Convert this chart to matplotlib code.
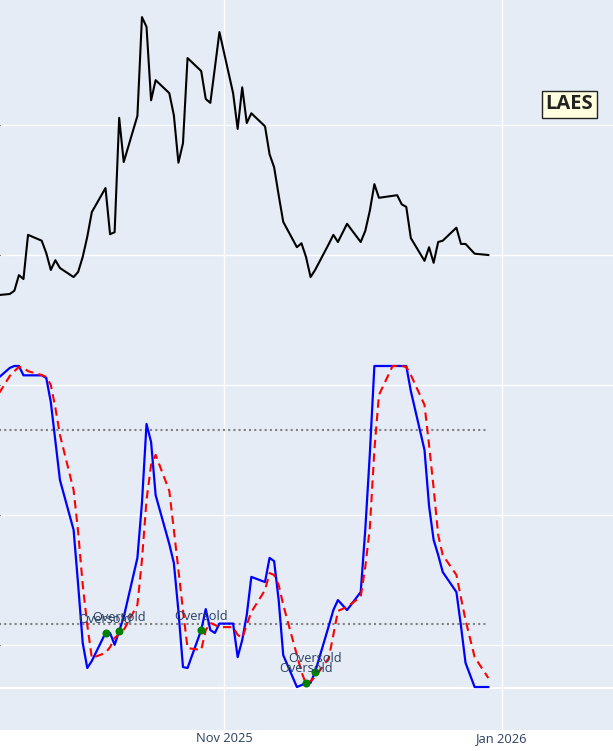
import numpy as np
import pandas as pd
import matplotlib
matplotlib.use("Agg")
import matplotlib.pyplot as plt

# trading days shown in the chart
dates = pd.to_datetime([
    "2025-09-12", "2025-09-15", "2025-09-16", "2025-09-17", "2025-09-18", "2025-09-19",
    "2025-09-22", "2025-09-23", "2025-09-24", "2025-09-25", "2025-09-26", "2025-09-29",
    "2025-09-30",
    "2025-10-01", "2025-10-02", "2025-10-03", "2025-10-06", "2025-10-07", "2025-10-08",
    "2025-10-09", "2025-10-10", "2025-10-13", "2025-10-14", "2025-10-15", "2025-10-16",
    "2025-10-17", "2025-10-20", "2025-10-21", "2025-10-22", "2025-10-23", "2025-10-24",
    "2025-10-27", "2025-10-28", "2025-10-29", "2025-10-30", "2025-10-31",
    "2025-11-03", "2025-11-04", "2025-11-05", "2025-11-06", "2025-11-07", "2025-11-10",
    "2025-11-11", "2025-11-12", "2025-11-13", "2025-11-14", "2025-11-17", "2025-11-18",
    "2025-11-19", "2025-11-20", "2025-11-21", "2025-11-24", "2025-11-25", "2025-11-26",
    "2025-11-28",
    "2025-12-01", "2025-12-02", "2025-12-03", "2025-12-04", "2025-12-05", "2025-12-08",
    "2025-12-09", "2025-12-10", "2025-12-11", "2025-12-12", "2025-12-15", "2025-12-16",
    "2025-12-17", "2025-12-18", "2025-12-19", "2025-12-22", "2025-12-23", "2025-12-24",
    "2025-12-26", "2025-12-29",
])

price = [
    5.38, 5.40, 5.45, 5.69, 5.63, 6.31, 6.22, 6.03, 5.77, 5.92, 5.80, 5.66, 5.74,
    5.97, 6.28, 6.66, 7.03, 6.32, 6.35, 8.11, 7.43, 8.14, 9.66, 9.51, 8.38, 8.69,
    8.49, 8.15, 7.42, 7.72, 9.03, 8.83, 8.40, 8.34, 8.88, 9.43,
    8.49, 7.94, 8.58, 8.03, 8.18, 7.98, 7.55, 7.35, 6.92, 6.51, 6.12, 6.18, 5.97,
    5.66, 5.77, 6.17, 6.31, 6.20, 6.48,
    6.20, 6.37, 6.68, 7.09, 6.88, 6.91, 6.92, 6.78, 6.74, 6.26, 5.91, 6.12, 5.88,
    6.20, 6.22, 6.42, 6.17, 6.17, 6.02, 6.00,
]

pct_k = [
    95.7, 99.4, 100, 100, 97.1, 97.1, 97.1, 96.3, 88.8, 76.7, 64.6, 49.1, 32.0,
    14.0, 6.2, 8.4, 17.1, 17.1, 13.4, 17.7, 22.0, 40.4, 57.5, 82.0, 76.4, 59.9,
    44.7, 38.8, 23.9, 6.5, 6.2, 18.0, 24.5, 18.0, 17.1, 20.0,
    20.0, 9.6, 14.9, 22.7, 34.5, 32.9, 40.4, 39.4, 27.3, 10.2, 0.3, 0.9, 1.6,
    1.6, 5.0, 19.3, 24.2, 27.3, 24.2,
    29.8, 49.1, 72.7, 100, 100, 100, 100, 100, 100, 92.2, 73.9, 56.5, 46.0,
    41.3, 36.0, 29.8, 19.3, 7.8, 0.3, 0.3,
]

pct_d = [
    90.1, 96.9, 98.4, 99.7, 99.4, 98.4, 97.2, 96.6, 94.1, 87.0, 78.6, 61.5, 48.4,
    32.0, 19.6, 9.3, 10.9, 12.7, 15.5, 16.8, 18.0, 25.8, 39.8, 58.4, 69.3, 72.4,
    61.2, 49.1, 36.6, 24.2, 12.4, 11.8, 18.0, 20.2, 19.6, 18.9,
    18.9, 16.5, 15.5, 19.6, 23.6, 30.4, 35.7, 35.1, 32.0, 25.8, 10.2, 5.0, 1.2,
    2.2, 3.4, 9.3, 16.5, 23.9, 25.2,
    28.3, 37.6, 49.7, 73.9, 91.0, 100, 100, 100, 99.7, 97.2, 87.9, 75.5, 62.1,
    47.5, 41.3, 35.1, 28.0, 21.1, 9.6, 3.1,
]

oversold_dates = pd.to_datetime(["2025-10-06", "2025-10-09", "2025-10-27",
                                 "2025-11-19", "2025-11-21"])
levels = [80, 20]
ticker = "LAES"

BG = "#E5ECF6"
FONT = "#2a3f5f"
plt.rcParams["font.family"] = ["Open Sans", "DejaVu Sans"]

fig = plt.figure(figsize=(6.13, 7.51), dpi=100)
fig.patch.set_facecolor("white")
h = 729.5 / 751
ax = fig.add_axes([0, 1 - h, 1, h])
ax.set_facecolor(BG)
for s in ax.spines.values():
    s.set_visible(False)

# price axis (grid every 2)
ax.plot(dates, price, color="black", lw=1.5, zorder=3)
ax.set_ylim(-1.3, 9.923)
ax.set_yticks([0, 2, 4, 6, 8])
ax.yaxis.grid(True, color="white", lw=1)
ax.tick_params(axis="y", left=False, labelleft=False)

# x axis
x0 = pd.Timestamp("2025-11-01") - pd.Timedelta(days=49.15)
x1 = pd.Timestamp("2026-01-01") + pd.Timedelta(days=24.36)
ax.set_xlim(x0, x1)
ax.set_xticks(pd.to_datetime(["2025-11-01", "2026-01-01"]))
ax.set_xticklabels(["Nov 2025", "Jan 2026"], fontsize=9.3, color=FONT)
ax.tick_params(axis="x", length=0, pad=1.5)
ax.xaxis.grid(True, color="white", lw=1)
ax.set_axisbelow(True)

# stochastic axis overlaid
ax2 = ax.twinx()
for s in ax2.spines.values():
    s.set_visible(False)
ax2.set_ylim(-12.89, 213.66)
ax2.tick_params(axis="y", right=False, labelright=False)
ax2.axhline(0, color="white", lw=1.5, zorder=1)
for lv in levels:
    ax2.plot([dates[0], dates[-1]], [lv, lv], color="gray", lw=1.5,
             dashes=(1, 1.5), zorder=2)
ax2.plot(dates, pct_k, color="blue", lw=1.6, zorder=4)
ax2.plot(dates, pct_d, color="red", lw=1.5, dashes=(4, 2.5), zorder=4)

k_lookup = dict(zip(dates, pct_k))
os_vals = [k_lookup[d] for d in oversold_dates]
ax2.plot(oversold_dates, os_vals, "o", color="green", ms=5.8, zorder=5, mec="none")
for d, v in zip(oversold_dates, os_vals):
    ax2.annotate("Oversold", (d, v), xytext=(0, 10), textcoords="offset points",
                 ha="center", va="center", fontsize=9.2, color=FONT, zorder=6)

ax.text(0.929, 0.857, ticker, transform=ax.transAxes, ha="center", va="center",
        fontsize=14.5, fontweight="bold", color="#222222", zorder=7,
        bbox=dict(boxstyle="square,pad=0.18", fc="#FFFFE0", ec="#222222", lw=1))

fig.savefig("out.png", dpi=100, facecolor=fig.get_facecolor())
